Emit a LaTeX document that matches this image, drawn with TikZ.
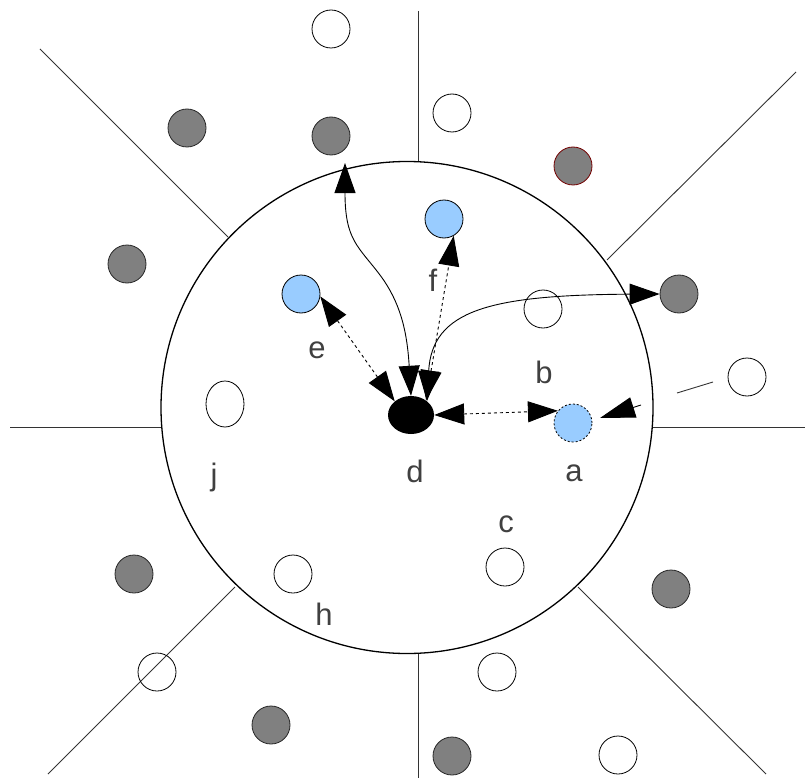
\documentclass[tikz,border=0pt]{standalone}
\usepackage{fontspec}
\setmainfont{Liberation Sans}
\usetikzlibrary{arrows.meta,shapes.geometric,calc}
\definecolor{grayfill}{HTML}{808080}
\definecolor{bluefill}{HTML}{99CCFF}
\definecolor{labelgray}{HTML}{404040}
\begin{document}
\begin{tikzpicture}[x=1pt,y=-1pt,
  greynode/.style={circle,draw=black!85,fill=grayfill,line width=0.8pt,minimum size=38pt,inner sep=0pt},
  whitenode/.style={circle,draw=black,line width=0.8pt,minimum size=38pt,inner sep=0pt},
  bluenode/.style={circle,draw=black,fill=bluefill,line width=0.8pt,minimum size=38pt,inner sep=0pt},
  lbl/.style={text=labelgray,font=\fontsize{31}{36}\selectfont,inner sep=0pt},
  sep/.style={draw=black!80,line width=0.9pt},
  conn/.style={line width=0.9pt},
  dconn/.style={line width=0.9pt,dash pattern=on 3pt off 3pt},
  >={Triangle[length=30pt,width=21pt]}]
\useasboundingbox (0,0) rectangle (805,778);

% sector separators
\draw[sep] (418,11) -- (418,162);
\draw[sep] (418,653) -- (418,778);
\draw[sep] (10,427) -- (162,427);
\draw[sep] (652,427) -- (805,427);
\draw[sep] (40,49) -- (228,237);
\draw[sep] (796,72) -- (607,260);
\draw[sep] (48,774) -- (235,587);
\draw[sep] (578,587) -- (766,774);
\draw[sep] (677,393) -- (713,382);

% big circle
\node[circle,draw,line width=1.3pt,minimum size=492pt,inner sep=0pt] (zone) at (407,407.5) {};

% grey nodes
\node[greynode] (g1) at (187,128) {};
\node[greynode] (g2) at (127,264) {};
\node[greynode] (g3) at (331,136) {};
\node[greynode,draw=red!45!black] (g4) at (573,166) {};
\node[greynode] (g5) at (679,294) {};
\node[greynode] (g6) at (134,574) {};
\node[greynode] (g7) at (271,725) {};
\node[greynode] (g8) at (671,589) {};
\node[greynode] (g9) at (452,756) {};

% white nodes
\node[whitenode] (w1) at (331,29) {};
\node[whitenode] (w2) at (452,113) {};
\node[whitenode] (w3) at (543,309) {};
\node[whitenode] (w4) at (747,377) {};
\node[ellipse,draw=black,line width=0.8pt,minimum width=38pt,minimum height=46pt,inner sep=0pt] (w5) at (225,404) {};
\node[whitenode] (w6) at (293,574) {};
\node[whitenode] (w7) at (157,672) {};
\node[whitenode] (w8) at (505,567) {};
\node[whitenode] (w9) at (497,672) {};
\node[whitenode] (w10) at (618,755) {};

% blue nodes
\node[bluenode] (be) at (301,294) {};
\node[bluenode] (bf) at (444,219) {};
\node[bluenode,dash pattern=on 2pt off 2pt] (ba) at (573,423) {};

% black node d
\node[ellipse,fill=black,minimum width=46pt,minimum height=38pt,inner sep=0pt] (d) at (411,415) {};

% labels
\node[lbl] (le) at (317,350) {e};
\node[lbl] (lf) at (433,280) {f};
\node[lbl] (lb) at (544,372) {b};
\node[lbl] (la) at (574,473) {a};
\node[lbl] (ld) at (415,471) {d};
\node[lbl] (lj) at (214,477) {j};
\node[lbl] (lc) at (506,524) {c};
\node[lbl] (lh) at (324,614) {h};

% connectors
\draw[conn,<->] (d.north) .. controls (407,330) and (400,302) .. (380,275)
   .. controls (358,246) and (345,240) .. ($(g3)+(14,27)$);
\draw[conn,<->] (d.41) .. controls (432,310) and (490,295) .. (g5.west);
\draw[dconn,<->] (d.140) -- (be.-7);
\draw[dconn,<->] (d.44) -- (bf.-60);
\draw[dconn,<->] (d.east) -- (ba.141);
\coordinate (astub) at (641,405);
\coordinate (atip) at (600,418);
\draw[conn,-{Triangle[length=35pt,width=21pt]}] (astub) -- (atip);
\end{tikzpicture}
\end{document}
